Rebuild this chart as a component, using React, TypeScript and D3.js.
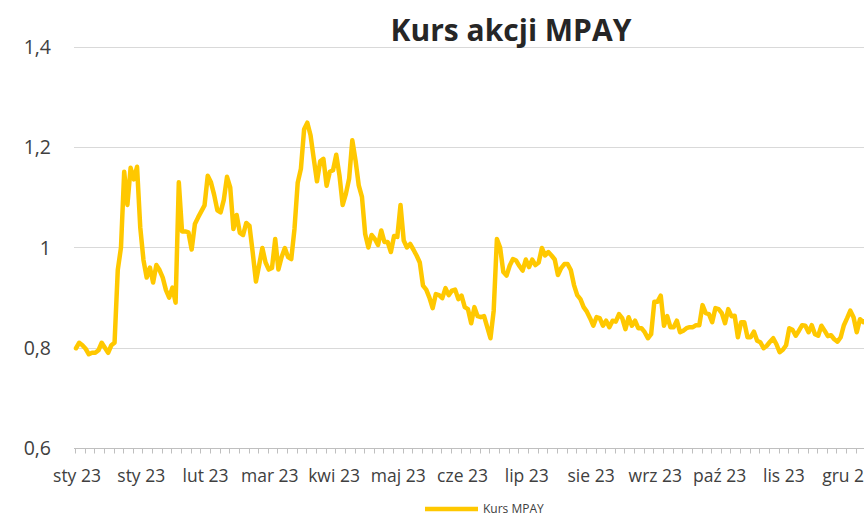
import React, { useEffect, useRef } from "react";
import * as d3 from "d3";

// daily close, MPAY, 2023 (one value per trading day)
const prices = [
  0.799, 0.81, 0.805, 0.798, 0.787, 0.79, 0.79, 0.795, 0.81, 0.8,
  0.79, 0.805, 0.81, 0.955, 1.0, 1.151, 1.085, 1.159, 1.136, 1.161,
  1.04, 0.975, 0.94, 0.96, 0.93, 0.965, 0.955, 0.94, 0.915, 0.9,
  0.92, 0.89, 1.13, 1.032, 1.032, 1.03, 0.996, 1.047, 1.06, 1.072,
  1.084, 1.143, 1.13, 1.105, 1.074, 1.07, 1.095, 1.141, 1.12, 1.037,
  1.065, 1.029, 1.025, 1.049, 1.043, 0.99, 0.932, 0.965, 0.999, 0.97,
  0.956, 0.959, 1.017, 0.956, 0.981, 0.999, 0.981, 0.977, 1.037, 1.129,
  1.157, 1.236, 1.249, 1.224, 1.177, 1.132, 1.172, 1.177, 1.123, 1.151,
  1.154, 1.185, 1.144, 1.085, 1.107, 1.137, 1.214, 1.174, 1.124, 1.101,
  1.027, 1.0, 1.025, 1.017, 1.005, 1.034, 1.011, 1.011, 0.991, 1.023,
  1.021, 1.085, 1.014, 1.0, 1.007, 0.996, 0.984, 0.97, 0.924, 0.916,
  0.9, 0.879, 0.907, 0.905, 0.899, 0.919, 0.905, 0.914, 0.916, 0.897,
  0.904, 0.881, 0.877, 0.849, 0.881, 0.863, 0.861, 0.863, 0.841, 0.819,
  0.874, 1.017, 1.0, 0.951, 0.944, 0.964, 0.977, 0.974, 0.963, 0.954,
  0.976, 0.961, 0.976, 0.965, 0.97, 0.999, 0.984, 0.991, 0.984, 0.976,
  0.945, 0.959, 0.967, 0.967, 0.955, 0.925, 0.905, 0.897, 0.881, 0.872,
  0.859, 0.844, 0.861, 0.859, 0.844, 0.854, 0.841, 0.854, 0.852, 0.867,
  0.859, 0.837, 0.861, 0.844, 0.854, 0.839, 0.839, 0.831, 0.819, 0.827,
  0.892, 0.892, 0.904, 0.844, 0.863, 0.841, 0.841, 0.854, 0.831, 0.834,
  0.839, 0.841, 0.841, 0.845, 0.845, 0.885, 0.869, 0.867, 0.851, 0.879,
  0.877, 0.869, 0.849, 0.877, 0.863, 0.864, 0.821, 0.851, 0.851, 0.821,
  0.821, 0.832, 0.814, 0.811, 0.799, 0.804, 0.812, 0.819, 0.807, 0.791,
  0.796, 0.805, 0.839, 0.836, 0.824, 0.834, 0.845, 0.844, 0.831, 0.845,
  0.827, 0.824, 0.844, 0.834, 0.823, 0.825, 0.817, 0.812, 0.821, 0.845,
  0.859, 0.874, 0.861, 0.831, 0.857, 0.851, 0.855, 0.85,
];

// a label every 20 sessions
const monthLabels = [
  "sty 23", "sty 23", "lut 23", "mar 23", "kwi 23", "maj 23", "cze 23",
  "lip 23", "sie 23", "wrz 23", "paź 23", "lis 23", "gru 23",
];
const yTicks = [0.6, 0.8, 1.0, 1.2, 1.4];

const FONT = "'Open Sans', 'Noto Sans', sans-serif";

function App() {
  const ref = useRef<HTMLDivElement>(null);

  useEffect(() => {
    const width = 864;
    const height = 516;
    const left = 76;
    const step = 3.213;

    d3.select(ref.current).select("svg").remove();

    const svg = d3
      .select(ref.current)
      .append("svg")
      .attr("width", width)
      .attr("height", height)
      .style("position", "absolute")
      .style("left", 0)
      .style("top", 0)
      .style("background", "#fff");

    const idx = prices.map((_, i) => i);
    const x = d3
      .scalePoint<number>()
      .domain(idx)
      .range([left, left + (prices.length - 1) * step]);

    const y = d3.scaleLinear().domain([0.6, 1.4]).range([448, 47]);

    // gridlines
    svg
      .selectAll("line.grid")
      .data(yTicks.slice(1))
      .enter()
      .append("line")
      .attr("x1", 74)
      .attr("x2", width)
      .attr("y1", (d) => Math.round(y(d)) + 0.5)
      .attr("y2", (d) => Math.round(y(d)) + 0.5)
      .attr("stroke", "#d9d9d9")
      .attr("stroke-width", 1);

    // y labels
    svg
      .selectAll("text.ylab")
      .data(yTicks)
      .enter()
      .append("text")
      .attr("x", 51)
      .attr("y", (d) => y(d) + 7)
      .attr("text-anchor", "end")
      .attr("font-family", FONT)
      .attr("font-size", 19.5)
      .attr("fill", "#404040")
      .text((d) => d3.format(".1~f")(d).replace(".", ","));

    // x axis line and minor ticks
    const axisY = Math.round(y(0.6)) + 0.5;
    svg
      .append("line")
      .attr("x1", 74)
      .attr("x2", width)
      .attr("y1", axisY)
      .attr("y2", axisY)
      .attr("stroke", "#bfbfbf");

    svg
      .selectAll("line.tick")
      .data(idx.filter((i) => i % 3 === 0))
      .enter()
      .append("line")
      .attr("x1", (d) => Math.round(x(d)!) - 0.5)
      .attr("x2", (d) => Math.round(x(d)!) - 0.5)
      .attr("y1", axisY)
      .attr("y2", axisY + 5)
      .attr("stroke", "#bfbfbf");

    svg
      .selectAll("text.xlab")
      .data(monthLabels)
      .enter()
      .append("text")
      .attr("x", (_, i) => x(i * 20)! + 1)
      .attr("y", 482)
      .attr("text-anchor", "middle")
      .attr("font-family", FONT)
      .attr("font-size", 17.5)
      .attr("fill", "#404040")
      .text((d) => d);

    // price line
    const line = d3
      .line<number>()
      .x((_, i) => x(i)!)
      .y((d) => y(d));

    svg
      .append("path")
      .datum(prices)
      .attr("d", line)
      .attr("fill", "none")
      .attr("stroke", "#ffc800")
      .attr("stroke-width", 4.5)
      .attr("stroke-linejoin", "round")
      .attr("stroke-linecap", "round");

    // title
    svg
      .append("text")
      .attr("x", 511)
      .attr("y", 41)
      .attr("text-anchor", "middle")
      .attr("font-family", FONT)
      .attr("font-weight", "bold")
      .attr("font-size", 30)
      .attr("fill", "#262626")
      .text("Kurs akcji MPAY");

    // legend
    svg
      .append("line")
      .attr("x1", 425)
      .attr("x2", 478)
      .attr("y1", 509)
      .attr("y2", 509)
      .attr("stroke", "#ffc800")
      .attr("stroke-width", 4.5);

    svg
      .append("text")
      .attr("x", 483)
      .attr("y", 513)
      .attr("font-family", FONT)
      .attr("font-size", 12)
      .attr("fill", "#404040")
      .text("Kurs MPAY");
  }, []);

  return <div ref={ref}></div>;
}

export default App;
